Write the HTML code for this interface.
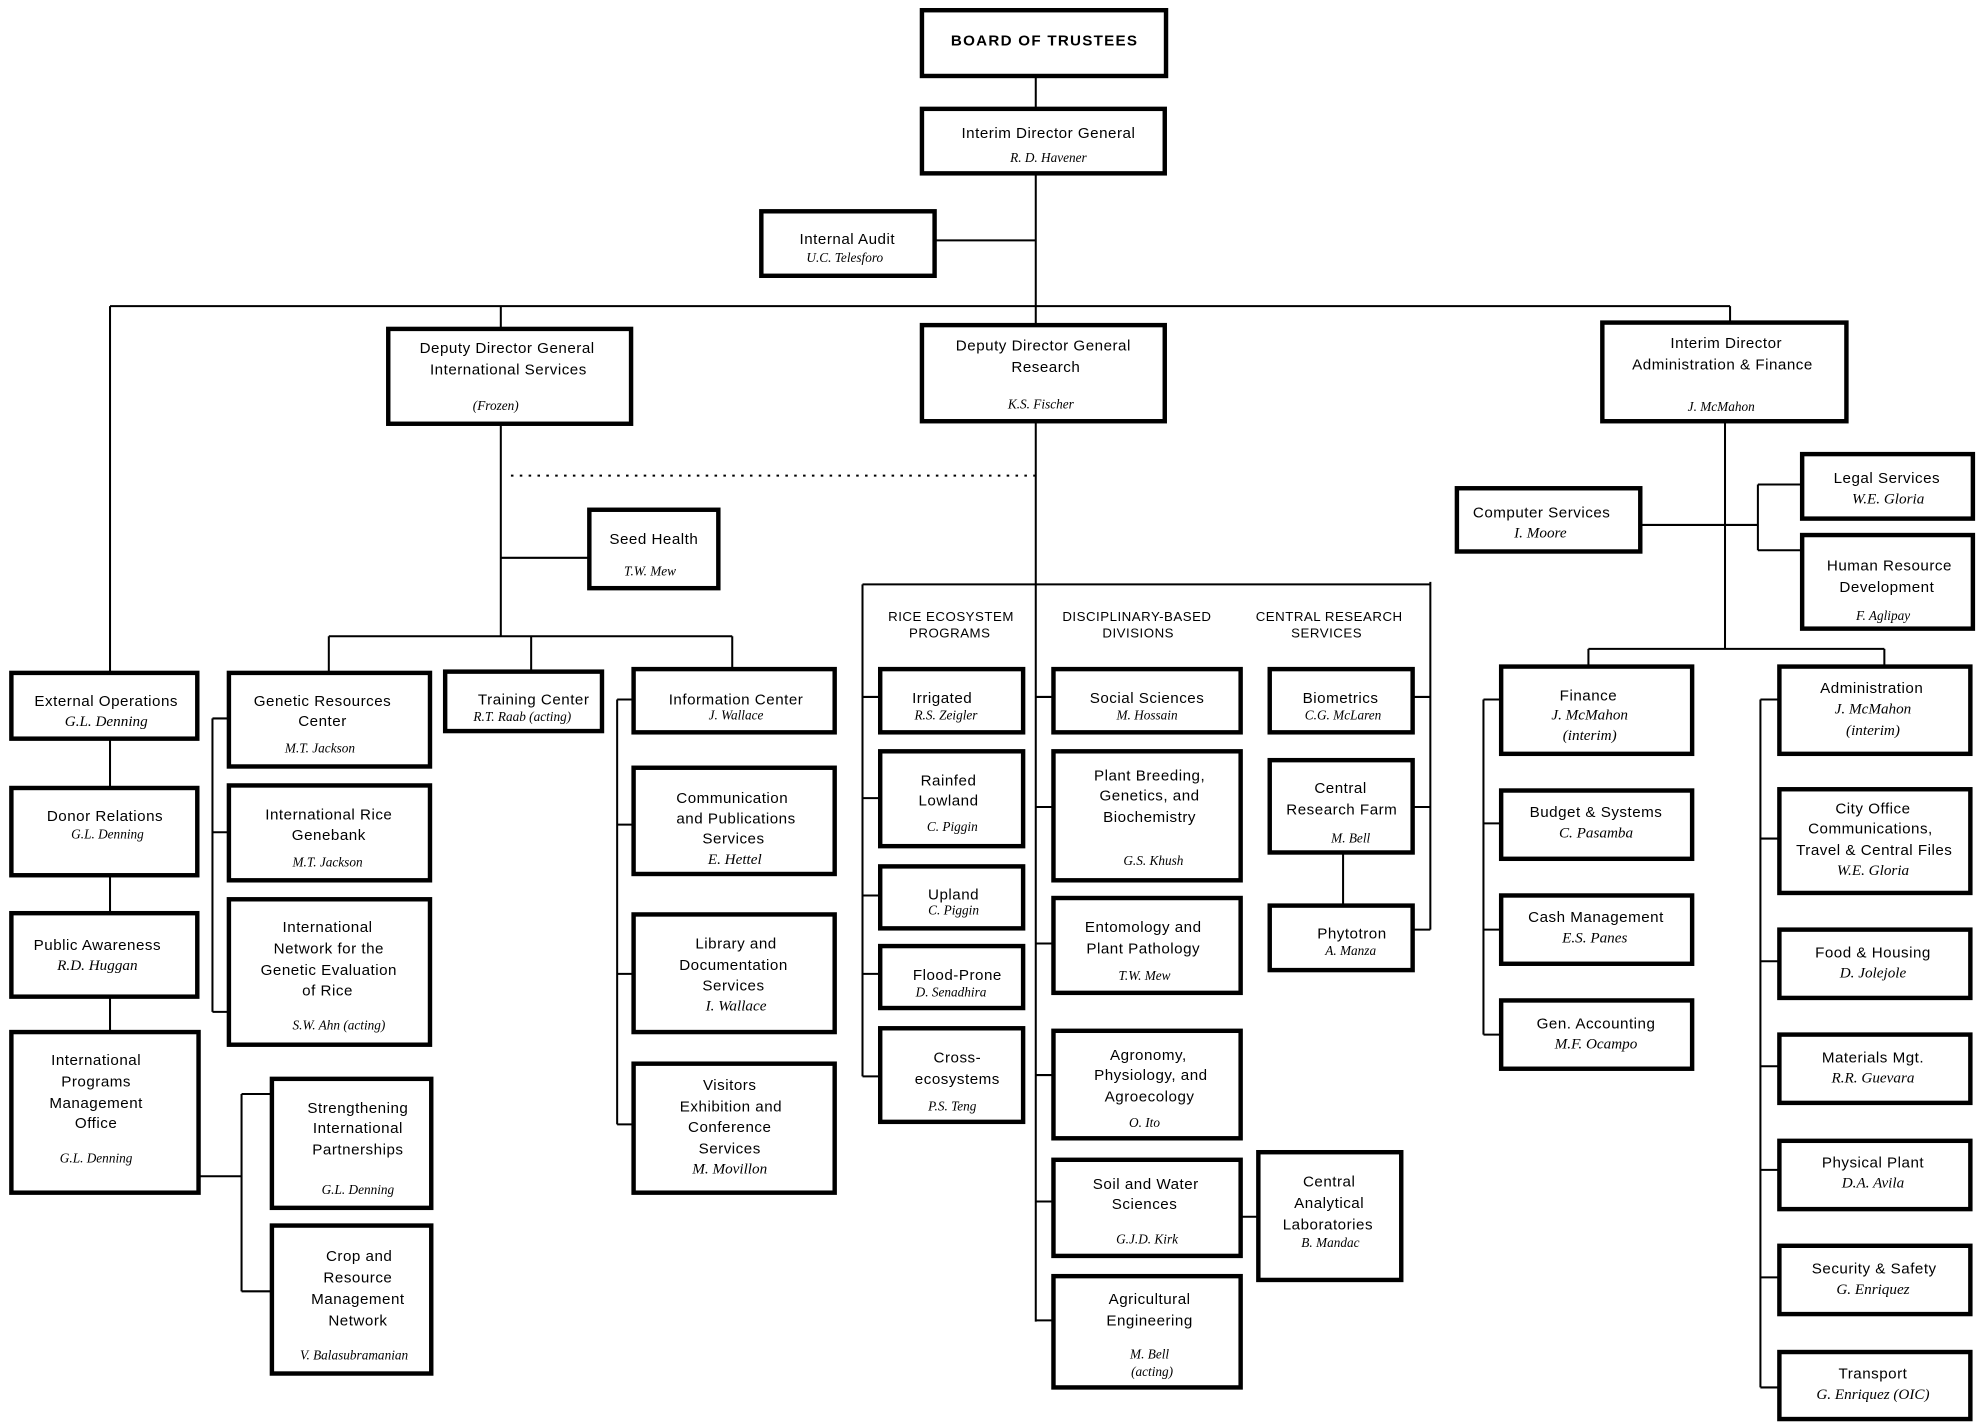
<!DOCTYPE html>
<html><head><meta charset="utf-8"><style>
html,body{margin:0;padding:0;background:#fff;}
svg{display:block}
.b{fill:#fff;stroke:#000;stroke-width:3.5}
.l{stroke:#000;stroke-width:1.6;fill:none}
text{font-family:"Liberation Sans",sans-serif;font-size:12px;text-anchor:middle;fill:#000;letter-spacing:0.4px}
.n{font-family:"Liberation Serif",serif;font-style:italic;font-size:10.5px;letter-spacing:0}
.h{font-size:10.5px}
</style></head><body>
<svg width="1983" height="1428" viewBox="0 0 1568 1129" xmlns="http://www.w3.org/2000/svg">
<!-- connectors -->
<g class="l">
<path d="M819 60V86M819 137V257M739 190H819"/>
<path d="M87 242H1368M87 242V533M396 242V260M1368 242V255"/>
<path d="M396 335V503M396 441H466M260 503H579M260 503V532M420 503V531M579 503V529"/>
<path d="M404 376H819" stroke-dasharray="2,5"/>
<path d="M168 568V800M168 568H181M168 658H181M168 800H181"/>
<path d="M488 553V889M488 553H501M488 652H501M488 770H501M488 889H501"/>
<path d="M87 584V623M87 692V722M87 788V816"/>
<path d="M157 930H191M191 865V1021M191 865H215M191 1021H215"/>
<path d="M819 333V1045M682 462H1131M682 462V851M682 551H696M682 631H696M682 708H696M682 770H696M682 851H696"/>
<path d="M1131 460V735M1117 551H1131M1117 638H1131M1117 735H1131"/>
<path d="M819 551H833M819 638H833M819 746H833M819 850H833M819 950H833M819 1044H833"/>
<path d="M981 962H995M1062 674V716"/>
<path d="M1364 333V513M1256 513H1490M1256 513V527M1490 513V527"/>
<path d="M1297 415H1390M1390 383V435M1390 383H1425M1390 435H1425"/>
<path d="M1173 553V818M1173 553H1187M1173 651H1187M1173 735H1187M1173 818H1187"/>
<path d="M1392 553V1097M1392 553H1407M1392 663H1407M1392 760H1407M1392 843H1407M1392 925H1407M1392 1010H1407M1392 1097H1407"/>
</g>
<!-- boxes -->
<g class="b">
<rect x="729" y="8" width="193" height="52"/>
<rect x="729" y="86" width="192" height="51"/>
<rect x="602" y="167" width="137" height="51"/>
<rect x="307" y="260" width="192" height="75"/>
<rect x="729" y="257" width="192" height="76"/>
<rect x="1267" y="255" width="193" height="78"/>
<rect x="466" y="403" width="102" height="62"/>
<rect x="181" y="532" width="159" height="74"/>
<rect x="181" y="621" width="159" height="75"/>
<rect x="181" y="711" width="159" height="115"/>
<rect x="352" y="531" width="124" height="47"/>
<rect x="501" y="529" width="159" height="50"/>
<rect x="501" y="607" width="159" height="84"/>
<rect x="501" y="723" width="159" height="93"/>
<rect x="501" y="841" width="159" height="102"/>
<rect x="9" y="532" width="147" height="52"/>
<rect x="9" y="623" width="147" height="69"/>
<rect x="9" y="722" width="147" height="66"/>
<rect x="9" y="816" width="148" height="127"/>
<rect x="215" y="853" width="126" height="102"/>
<rect x="215" y="969" width="126" height="117"/>
<rect x="696" y="529" width="113" height="50"/>
<rect x="696" y="594" width="113" height="75"/>
<rect x="696" y="685" width="113" height="49"/>
<rect x="696" y="748" width="113" height="49"/>
<rect x="696" y="813" width="113" height="74"/>
<rect x="833" y="529" width="148" height="50"/>
<rect x="833" y="594" width="148" height="102"/>
<rect x="833" y="710" width="148" height="75"/>
<rect x="833" y="815" width="148" height="85"/>
<rect x="833" y="917" width="148" height="76"/>
<rect x="995" y="911" width="113" height="101"/>
<rect x="833" y="1009" width="148" height="88"/>
<rect x="1004" y="529" width="113" height="50"/>
<rect x="1004" y="601" width="113" height="73"/>
<rect x="1004" y="716" width="113" height="51"/>
<rect x="1152" y="386" width="145" height="50"/>
<rect x="1425" y="359" width="135" height="51"/>
<rect x="1425" y="423" width="135" height="74"/>
<rect x="1187" y="527" width="151" height="69"/>
<rect x="1187" y="625" width="151" height="54"/>
<rect x="1187" y="708" width="151" height="54"/>
<rect x="1187" y="791" width="151" height="54"/>
<rect x="1407" y="527" width="151" height="69"/>
<rect x="1407" y="624" width="151" height="82"/>
<rect x="1407" y="735" width="151" height="54"/>
<rect x="1407" y="818" width="151" height="54"/>
<rect x="1407" y="902" width="151" height="54"/>
<rect x="1407" y="985" width="151" height="54"/>
<rect x="1407" y="1069" width="151" height="53"/>
</g>
<!-- text -->
<g>
<text x="826" y="36" style="font-weight:bold;font-size:12px;letter-spacing:1px">BOARD OF TRUSTEES</text>
<text x="829" y="109">Interim Director General</text><text class="n" x="829" y="128">R. D. Havener</text>
<text x="670" y="193">Internal Audit</text><text class="n" x="668" y="207">U.C. Telesforo</text>
<text x="401" y="279">Deputy Director General</text><text x="402" y="296">International Services</text><text class="n" x="392" y="324">(Frozen)</text>
<text x="825" y="277">Deputy Director General</text><text x="827" y="294">Research</text><text class="n" x="823" y="323">K.S. Fischer</text>
<text x="1365" y="275">Interim Director</text><text x="1362" y="292">Administration &amp; Finance</text><text class="n" x="1361" y="325">J. McMahon</text>
<text x="517" y="430">Seed Health</text><text class="n" x="514" y="455">T.W. Mew</text>
<text x="255" y="558">Genetic Resources</text><text x="255" y="574">Center</text><text class="n" x="253" y="595">M.T. Jackson</text>
<text x="260" y="648">International Rice</text><text x="260" y="664">Genebank</text><text class="n" x="259" y="685">M.T. Jackson</text>
<text x="259" y="737">International</text><text x="260" y="754">Network for the</text><text x="260" y="771">Genetic Evaluation</text><text x="259" y="787">of Rice</text><text class="n" x="268" y="814">S.W. Ahn (acting)</text>
<text x="422" y="557">Training Center</text><text class="n" x="413" y="570">R.T. Raab (acting)</text>
<text x="582" y="557">Information Center</text><text class="n" x="582" y="569">J. Wallace</text>
<text x="579" y="635">Communication</text><text x="582" y="651">and Publications</text><text x="580" y="667">Services</text><text class="n" x="581" y="683" style="font-size:12px">E. Hettel</text>
<text x="582" y="750">Library and</text><text x="580" y="767">Documentation</text><text x="580" y="783">Services</text><text class="n" x="582" y="799" style="font-size:12px">I. Wallace</text>
<text x="577" y="862">Visitors</text><text x="578" y="879">Exhibition and</text><text x="577" y="895">Conference</text><text x="577" y="912">Services</text><text class="n" x="577" y="928" style="font-size:12px">M. Movillon</text>
<text x="84" y="558">External Operations</text><text class="n" x="84" y="574" style="font-size:12px">G.L. Denning</text>
<text x="83" y="649">Donor Relations</text><text class="n" x="85" y="663">G.L. Denning</text>
<text x="77" y="751">Public Awareness</text><text class="n" x="77" y="767" style="font-size:12px">R.D. Huggan</text>
<text x="76" y="842">International</text><text x="76" y="859">Programs</text><text x="76" y="876">Management</text><text x="76" y="892">Office</text><text class="n" x="76" y="919">G.L. Denning</text>
<text x="283" y="880">Strengthening</text><text x="283" y="896">International</text><text x="283" y="913">Partnerships</text><text class="n" x="283" y="944">G.L. Denning</text>
<text x="284" y="997">Crop and</text><text x="283" y="1014">Resource</text><text x="283" y="1031">Management</text><text x="283" y="1048">Network</text><text class="n" x="280" y="1075">V. Balasubramanian</text>
<text class="h" x="752" y="491">RICE ECOSYSTEM</text><text class="h" x="751" y="504">PROGRAMS</text>
<text class="h" x="899" y="491">DISCIPLINARY-BASED</text><text class="h" x="900" y="504">DIVISIONS</text>
<text class="h" x="1051" y="491">CENTRAL  RESEARCH</text><text class="h" x="1049" y="504">SERVICES</text>
<text x="745" y="556">Irrigated</text><text class="n" x="748" y="569">R.S. Zeigler</text>
<text x="750" y="621">Rainfed</text><text x="750" y="637">Lowland</text><text class="n" x="753" y="657">C. Piggin</text>
<text x="754" y="711">Upland</text><text class="n" x="754" y="723">C. Piggin</text>
<text x="757" y="775">Flood-Prone</text><text class="n" x="752" y="788">D. Senadhira</text>
<text x="757" y="840">Cross-</text><text x="757" y="857">ecosystems</text><text class="n" x="753" y="878">P.S. Teng</text>
<text x="907" y="556">Social Sciences</text><text class="n" x="907" y="569">M. Hossain</text>
<text x="909" y="617">Plant Breeding,</text><text x="909" y="633">Genetics, and</text><text x="909" y="650">Biochemistry</text><text class="n" x="912" y="684">G.S. Khush</text>
<text x="904" y="737">Entomology and</text><text x="904" y="754">Plant Pathology</text><text class="n" x="905" y="775">T.W. Mew</text>
<text x="908" y="838">Agronomy,</text><text x="910" y="854">Physiology, and</text><text x="909" y="871">Agroecology</text><text class="n" x="905" y="891">O. Ito</text>
<text x="906" y="940">Soil and Water</text><text x="905" y="956">Sciences</text><text class="n" x="907" y="983">G.J.D. Kirk</text>
<text x="1051" y="938">Central</text><text x="1051" y="955">Analytical</text><text x="1050" y="972">Laboratories</text><text class="n" x="1052" y="986">B. Mandac</text>
<text x="909" y="1031">Agricultural</text><text x="909" y="1048">Engineering</text><text class="n" x="909" y="1074">M. Bell</text><text class="n" x="911" y="1088">(acting)</text>
<text x="1060" y="556">Biometrics</text><text class="n" x="1062" y="569">C.G. McLaren</text>
<text x="1060" y="627">Central</text><text x="1061" y="644">Research Farm</text><text class="n" x="1068" y="666">M. Bell</text>
<text x="1069" y="742">Phytotron</text><text class="n" x="1068" y="755">A. Manza</text>
<text x="1219" y="409">Computer Services</text><text class="n" x="1218" y="425" style="font-size:12px">I. Moore</text>
<text x="1492" y="382">Legal Services</text><text class="n" x="1493" y="398" style="font-size:12px">W.E. Gloria</text>
<text x="1494" y="451">Human Resource</text><text x="1492" y="468">Development</text><text class="n" x="1489" y="490">F. Aglipay</text>
<text x="1256" y="554">Finance</text><text class="n" x="1257" y="569" style="font-size:12px">J. McMahon</text><text class="n" x="1257" y="585" style="font-size:12px">(interim)</text>
<text x="1262" y="646">Budget &amp; Systems</text><text class="n" x="1262" y="662" style="font-size:12px">C. Pasamba</text>
<text x="1262" y="729">Cash Management</text><text class="n" x="1261" y="745" style="font-size:12px">E.S. Panes</text>
<text x="1262" y="813">Gen. Accounting</text><text class="n" x="1262" y="829" style="font-size:12px">M.F. Ocampo</text>
<text x="1480" y="548">Administration</text><text class="n" x="1481" y="564" style="font-size:12px">J. McMahon</text><text class="n" x="1481" y="581" style="font-size:12px">(interim)</text>
<text x="1481" y="643">City Office</text><text x="1479" y="659">Communications,</text><text x="1482" y="676">Travel &amp; Central Files</text><text class="n" x="1481" y="692" style="font-size:12px">W.E. Gloria</text>
<text x="1481" y="757">Food &amp; Housing</text><text class="n" x="1481" y="773" style="font-size:12px">D. Jolejole</text>
<text x="1481" y="840">Materials Mgt.</text><text class="n" x="1481" y="856" style="font-size:12px">R.R. Guevara</text>
<text x="1481" y="923">Physical Plant</text><text class="n" x="1481" y="939" style="font-size:12px">D.A. Avila</text>
<text x="1482" y="1007">Security &amp; Safety</text><text class="n" x="1481" y="1023" style="font-size:12px">G. Enriquez</text>
<text x="1481" y="1090">Transport</text><text class="n" x="1481" y="1106" style="font-size:12px">G. Enriquez (OIC)</text>
</g>
</svg>
</body></html>
